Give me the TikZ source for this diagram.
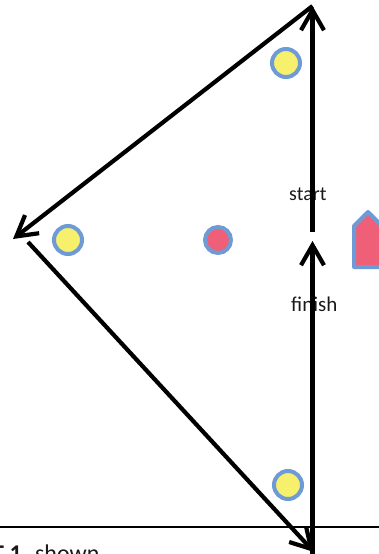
\documentclass[tikz,border=0pt]{standalone}
\usepackage{fontspec}
\setmainfont{Carlito}
\usetikzlibrary{arrows.meta}
\definecolor{ringblue}{HTML}{6E9BD6}
\definecolor{dotyellow}{HTML}{F6F06C}
\definecolor{dotred}{HTML}{EF6078}
\begin{document}
\begin{tikzpicture}[x=1pt,y=-1pt,
  arr/.style={line width=4.2pt,-{Straight Barb[length=20pt,width=23pt]}},
  ydot/.style={circle,draw=ringblue,fill=dotyellow,line width=4pt,minimum size=28pt,inner sep=0pt},
  rdot/.style={circle,draw=ringblue,fill=dotred,line width=4pt,minimum size=26pt,inner sep=0pt},
  lbl/.style={inner sep=0pt,anchor=base west,text=black!90}]
\useasboundingbox (0,0) rectangle (379,554);
\clip (0,0) rectangle (379,554);
% labels
\node[lbl,font=\fontsize{20}{24}\selectfont] (start) at (289,200) {start};
\node[lbl,font=\fontsize{21}{25}\selectfont] (finish) at (291,311) {finish};
\node[lbl,font=\fontsize{24}{28}\selectfont] (cap) at (-8,561) {\textbf{T 1}\hspace{8pt} shown};
% horizontal rule
\coordinate (hl) at (0,527);
\coordinate (hr) at (379,527);
\draw[line width=1.8pt] (hl) -- (hr);
% route points
\coordinate (T) at (312.5,6);
\coordinate (L) at (13,239);
\coordinate (L2) at (28,242);
\coordinate (B) at (314,552);
\coordinate (S) at (312.5,232);
\coordinate (F) at (312.5,241);
\coordinate (B0) at (312.5,560);
\draw[arr] (S) -- (T);
\draw[arr] (T) -- (L);
\draw[arr] (L2) -- (B);
\draw[arr] (B0) -- (F);
% markers
\node[ydot] (y1) at (286,63) {};
\node[ydot] (y2) at (68,240) {};
\node[ydot] (y3) at (288,485) {};
\node[rdot] (r1) at (218,240) {};
\draw[ringblue,fill=dotred,line width=4pt,line join=round] (354,226) -- (368,212) -- (382,226) -- (382,267) -- (354,267) -- cycle;
\end{tikzpicture}
\end{document}
